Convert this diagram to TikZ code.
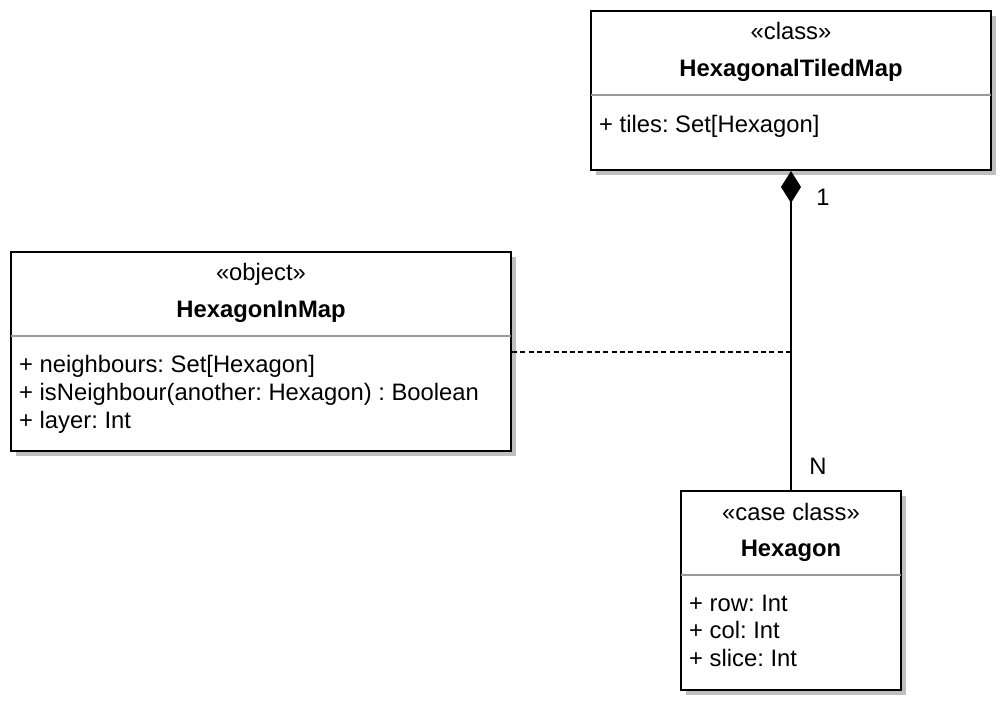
\documentclass[tikz,border=0pt]{standalone}
\usepackage{fontspec}
\setmainfont{Liberation Sans}
\usetikzlibrary{arrows.meta,shadows}
\begin{document}
\begin{tikzpicture}[x=1pt,y=-1pt,
  umlbox/.style={draw=black, line width=2pt, fill=white, inner sep=0pt,
    drop shadow={shadow xshift=5pt, shadow yshift=-5pt, fill=black!25, opacity=1}},
  txt/.style={inner sep=0pt, anchor=base, font=\fontsize{23.8}{28.8}\selectfont\frenchspacing},
  ttl/.style={txt, font=\fontsize{23.8}{28.8}\selectfont\frenchspacing\bfseries},
  attr/.style={txt, anchor=base west},
  divider/.style={draw=black!40, line width=1.3pt},
  conn/.style={draw=black, line width=2pt},
  dashconn/.style={conn, dash pattern=on 5pt off 3.3pt}
]
\useasboundingbox (0,0) rectangle (1006,710);

% HexagonalTiledMap
\node[umlbox, minimum width=400pt, minimum height=159pt] (map) at (791,90.5) {};
\draw[divider] (591,95) -- (991,95);
\node[txt] (mapst) at (791,39) {«class»};
\node[ttl] (mapt) at (791,76) {HexagonalTiledMap};
\node[attr] (mapa1) at (599,132) {+ tiles: Set[Hexagon]};

% HexagonInMap
\node[umlbox, minimum width=500pt, minimum height=199pt] (obj) at (261,351.5) {};
\draw[divider] (11,336) -- (511,336);
\node[txt] (objst) at (261,280) {«object»};
\node[ttl] (objt) at (261,317) {HexagonInMap};
\node[attr] (obja1) at (19,372) {+ neighbours: Set[Hexagon]};
\node[attr] (obja2) at (19,400) {+ isNeighbour(another: Hexagon) : Boolean};
\node[attr] (obja3) at (19,428) {+ layer: Int};

% Hexagon
\node[umlbox, minimum width=220pt, minimum height=199pt] (hex) at (791,590.5) {};
\draw[divider] (681,575) -- (901,575);
\node[txt] (hexst) at (791,520) {«case class»};
\node[ttl] (hext) at (791,556) {Hexagon};
\node[attr] (hexa1) at (689,611) {+ row: Int};
\node[attr] (hexa2) at (689,638) {+ col: Int};
\node[attr] (hexa3) at (689,666) {+ slice: Int};

% connectors
\draw[conn, {Diamond[length=32pt,width=20pt]}-] (map.south) -- (hex.north);
\coordinate (junc) at (791,351.5);
\draw[dashconn] (obj.east) -- (junc);
\node[txt] (one) at (823,205) {1};
\node[txt] (many) at (818,474) {N};
\end{tikzpicture}
\end{document}
